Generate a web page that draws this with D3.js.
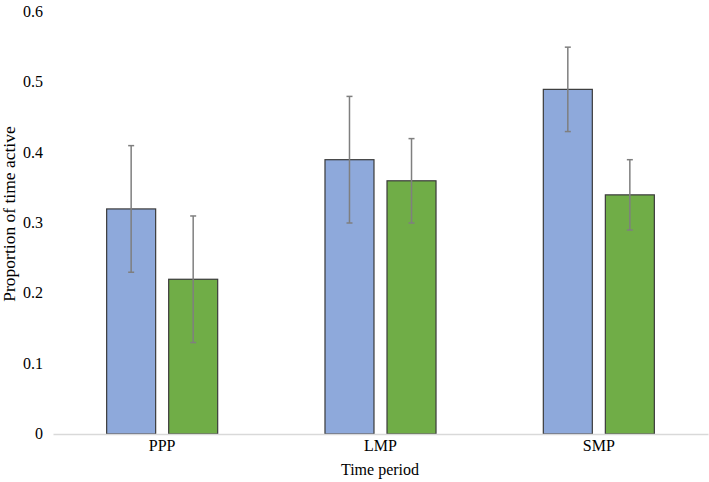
<!DOCTYPE html>
<html>
<head>
<meta charset="utf-8">
<script src="https://cdn.jsdelivr.net/npm/d3@7"></script>
<style>
  html, body { margin: 0; padding: 0; background: #fff; }
  svg { display: block; }
  text { font-family: "Liberation Serif", "Times New Roman", serif; fill: #000; }
</style>
</head>
<body>
<svg id="chart" width="709" height="482"></svg>
<script>
const categories = ["PPP", "LMP", "SMP"];
const seriesNames = ["Series A", "Series B"];
const seriesA = [0.32, 0.39, 0.49];
const seriesAErr = [0.09, 0.09, 0.06];
const seriesB = [0.22, 0.36, 0.34];
const seriesBErr = [0.09, 0.06, 0.05];
const yTicks = [0, 0.1, 0.2, 0.3, 0.4, 0.5, 0.6];
const colors = ["#8EA9DB", "#70AD47"];

(function () {
const svg = d3.select("#chart");
const mLeft = 53, mRight = 708, mTop = 12, mBottom = 434;

const x = d3.scaleBand().domain(categories).range([mLeft, mRight]).paddingInner(0).paddingOuter(0);
const sub = d3.scaleBand().domain(seriesNames).range([0, x.bandwidth()]).paddingInner(0.21).paddingOuter(0.865);
const y = d3.scaleLinear().domain([0, 0.6]).range([mBottom, mTop]);

const data = [];
categories.forEach((c, i) => {
  data.push({cat: c, s: seriesNames[0], v: seriesA[i], e: seriesAErr[i], color: colors[0]});
  data.push({cat: c, s: seriesNames[1], v: seriesB[i], e: seriesBErr[i], color: colors[1]});
});

// y axis labels
const yAxis = d3.axisLeft(y).tickValues(yTicks).tickSize(0).tickPadding(10)
  .tickFormat(d => d === 0 ? "0" : d3.format(".1f")(d));
const yg = svg.append("g").attr("transform", `translate(${mLeft},0)`).call(yAxis);
yg.select(".domain").remove();
yg.selectAll("text").attr("font-size", 16).attr("font-family", "Liberation Serif").attr("fill", "#000").attr("dy", "0.28em");

// bars
svg.append("g").selectAll("rect").data(data).join("rect")
  .attr("x", d => x(d.cat) + sub(d.s))
  .attr("y", d => y(d.v))
  .attr("width", sub.bandwidth())
  .attr("height", d => y(0) - y(d.v))
  .attr("fill", d => d.color)
  .attr("stroke", "#3a3a3a")
  .attr("stroke-width", 1.2);

// x axis line
const xAxis = d3.axisBottom(x).tickSize(0).tickPadding(6);
const xg = svg.append("g").attr("transform", `translate(0,${mBottom})`).call(xAxis);
xg.select(".domain").attr("stroke", "#d9d9d9").attr("stroke-width", 1.5);
xg.selectAll("text").attr("font-size", 16).attr("font-family", "Liberation Serif").attr("fill", "#000");

// error bars
const eg = svg.append("g").attr("stroke", "#7f7f7f").attr("stroke-width", 1.5);
data.forEach(d => {
  const cx = x(d.cat) + sub(d.s) + sub.bandwidth() / 2;
  eg.append("line").attr("x1", cx).attr("x2", cx).attr("y1", y(d.v + d.e)).attr("y2", y(d.v - d.e));
  eg.append("line").attr("x1", cx - 3).attr("x2", cx + 3).attr("y1", y(d.v + d.e)).attr("y2", y(d.v + d.e));
  eg.append("line").attr("x1", cx - 3).attr("x2", cx + 3).attr("y1", y(d.v - d.e)).attr("y2", y(d.v - d.e));
});

// axis titles
svg.append("text").attr("x", (mLeft + mRight) / 2 - 0.5).attr("y", 475)
  .attr("text-anchor", "middle").attr("font-size", 16).text("Time period");
svg.append("text").attr("transform", "translate(15,214) rotate(-90)")
  .attr("text-anchor", "middle").attr("font-size", 17.5).text("Proportion of time active");
})();
</script>
</body>
</html>
